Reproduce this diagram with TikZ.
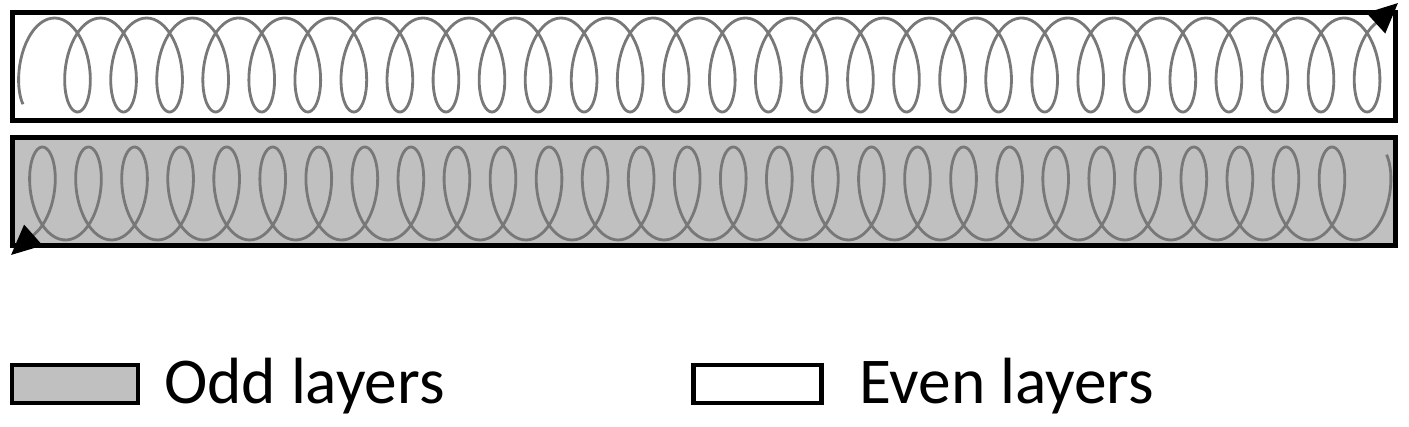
\documentclass[tikz,border=0pt]{standalone}
\usepackage{fontspec}
\setmainfont{Carlito}
\usetikzlibrary{arrows.meta, positioning, calc}

\definecolor{oddgray}{RGB}{192,192,192}
\definecolor{coilgray}{RGB}{120,120,120}

\begin{document}
\begin{tikzpicture}[x=0.025cm, y=-0.025cm,
    layerbox/.style={draw=black, line width=3.5pt},
    coil/.style={draw=coilgray, line width=2pt, line join=round},
    coiltip/.style={-{Triangle[length=0.75cm, width=0.68cm, color=black]}},
    legbox/.style={draw=black, line width=3.5pt, minimum width=3.15cm, minimum height=0.95cm, inner sep=0pt},
    legtext/.style={font=\fontsize{46.5}{50}\selectfont, inner sep=0pt, anchor=base west}]
\useasboundingbox (0,0) rectangle (1409,427);

% Even layer (top), coil runs left to right
\coordinate (evenend) at (1398,3);
\draw[layerbox, fill=white] (12.5,12.5) rectangle (1395.5,120.5);
\draw[coil, coiltip] plot[domain=-5.7:178.53, samples=1500]
    ({77.5 + 7.33*\x - 23.2*sin(\x r)}, {65 + 47*cos(\x r)}) -- (evenend);

% Odd layer (bottom), coil runs right to left
\coordinate (oddend) at (11,255);
\draw[layerbox, fill=oddgray] (12.5,137.5) rectangle (1395.5,245.5);
\draw[coil, coiltip] plot[domain=-5.7:178.53, samples=1500]
    ({1332 - 7.33*\x + 23.2*sin(\x r)}, {193.5 - 46.5*cos(\x r)}) -- (oddend);

% Legend
\node[legbox, fill=oddgray] (oddbox) at (75,384) {};
\node[legtext] (oddlabel) at (164,403) {Odd layers};
\node[legbox, fill=white, minimum width=3.18cm] (evenbox) at (757.5,384) {};
\node[legtext] (evenlabel) at (859,403) {Even layers};
\end{tikzpicture}
\end{document}
